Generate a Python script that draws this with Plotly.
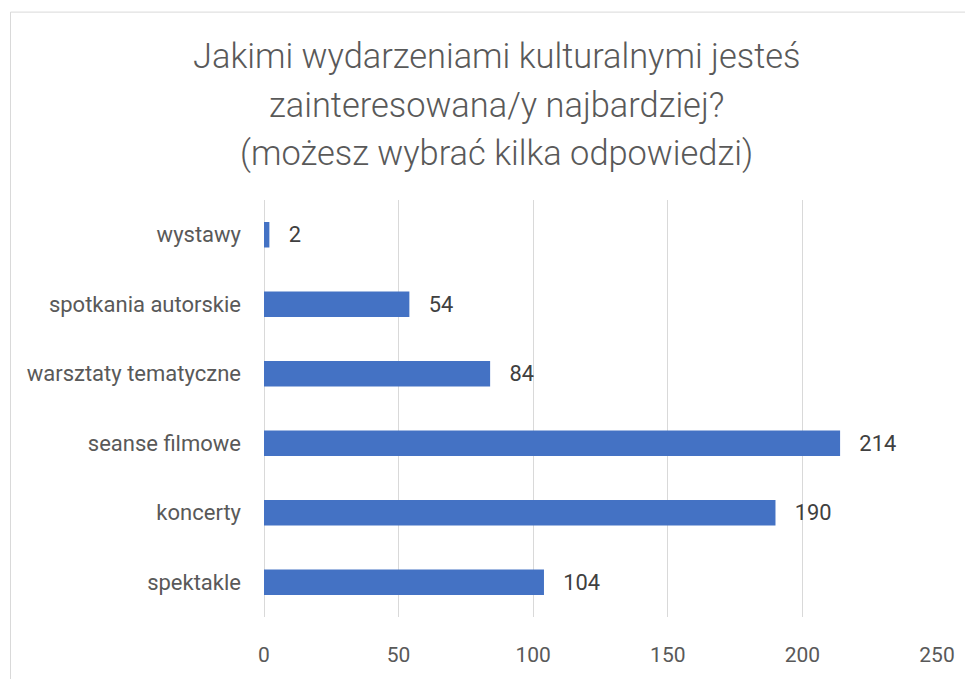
import plotly.graph_objects as go

# Data (bottom to top in plot order)
categories = ["spektakle", "koncerty", "seanse filmowe", "warsztaty tematyczne",
              "spotkania autorskie", "wystawy"]
values = [104, 190, 214, 84, 54, 2]
x_ticks = [0, 50, 100, 150, 200, 250]
title_lines = ["Jakimi wydarzeniami kulturalnymi jesteś",
               "zainteresowana/y najbardziej?",
               "(możesz wybrać kilka odpowiedzi)"]

OFF = 8  # page body margin
W, H = 973 - OFF, 679 - OFF
ml, mt = 264 - OFF, 200 - OFF
plot_r, plot_b = 937 - OFF, 625 - OFF
mr, mb = W - plot_r, H - plot_b
pw, ph = W - ml - mr, H - mt - mb

def px_x(p):
    return (p - OFF - ml) / pw

def px_y(p):
    return (plot_b - (p - OFF)) / ph

fig = go.Figure()
fig.add_trace(go.Bar(
    y=categories, x=values, orientation="h",
    marker=dict(color="#4472C4", line=dict(width=0)),
    texttemplate="\u00a0\u00a0\u00a0%{x}", textposition="outside",
    textfont=dict(family="Roboto", size=24, color="#404040"),
    cliponaxis=False, hoverinfo="skip",
))

annotations = []
for i, line in enumerate(title_lines):
    annotations.append(dict(
        text=line, xref="paper", yref="paper",
        x=px_x(496), y=px_y(53 + 50 * i), xanchor="center", yanchor="middle",
        showarrow=False,
        font=dict(family="Roboto", size=34.4, color="#595959", weight=300),
    ))

fig.update_layout(
    width=W, height=H,
    margin=dict(l=ml, r=mr, t=mt, b=mb, pad=0),
    paper_bgcolor="white", plot_bgcolor="white",
    showlegend=False,
    bargap=0.633,
    annotations=annotations,
    shapes=[dict(type="rect", xref="paper", yref="paper",
                 x0=px_x(10.5), x1=px_x(1100), y0=px_y(800), y1=px_y(8.5),
                 line=dict(color="#D9D9D9", width=1), fillcolor="rgba(0,0,0,0)",
                 layer="below")],
    xaxis=dict(range=[0, 250], tickvals=x_ticks, showgrid=True,
               gridcolor="#D9D9D9", gridwidth=1, zeroline=True,
               zerolinecolor="#D9D9D9", zerolinewidth=1, showline=False,
               ticks="", ticklabelstandoff=23,
               tickfont=dict(family="Roboto", size=21, color="#595959"),
               fixedrange=True),
    yaxis=dict(showgrid=False, zeroline=False, showline=False, ticks="",
               ticklabelstandoff=22,
               tickfont=dict(family="Roboto", size=22, color="#595959"),
               fixedrange=True),
)

fig.write_html("out.html")
